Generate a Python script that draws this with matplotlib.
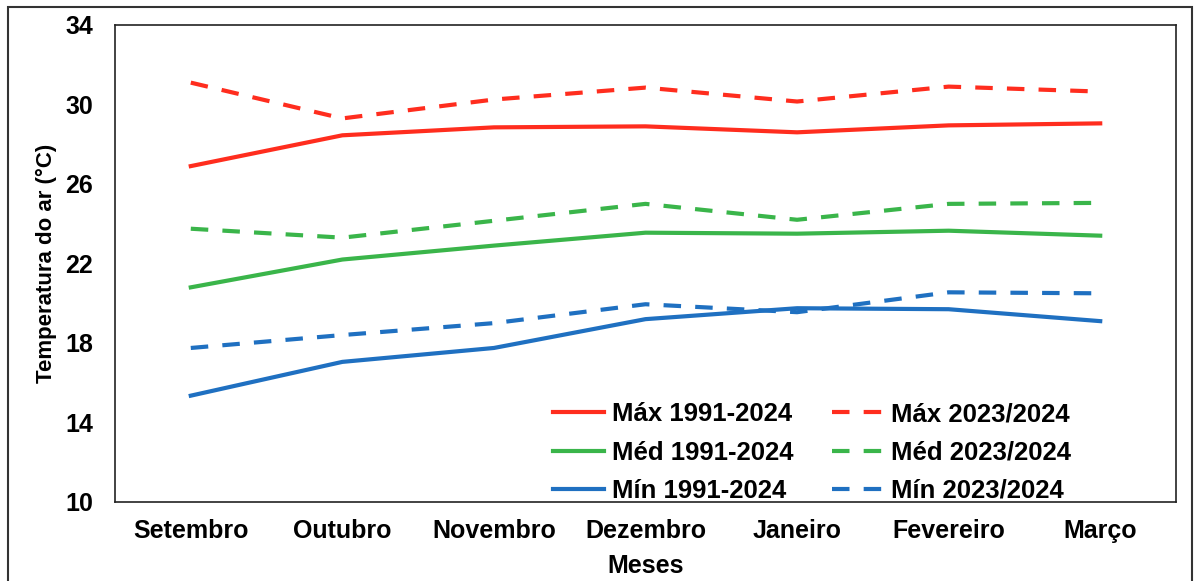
import matplotlib
matplotlib.use('Agg')
import matplotlib.pyplot as plt
from matplotlib.patches import Rectangle

# Dados (temperatura do ar, °C)
meses = ['Setembro', 'Outubro', 'Novembro', 'Dezembro', 'Janeiro', 'Fevereiro', 'Março']
max_normal = [26.9, 28.45, 28.85, 28.9, 28.6, 28.95, 29.05]
max_2324   = [31.1, 29.3, 30.25, 30.85, 30.15, 30.9, 30.65]
med_normal = [20.8, 22.2, 22.9, 23.55, 23.5, 23.65, 23.4]
med_2324   = [23.75, 23.3, 24.15, 25.0, 24.2, 25.0, 25.05]
min_normal = [15.35, 17.05, 17.75, 19.2, 19.75, 19.7, 19.1]
min_2324   = [17.75, 18.4, 19.0, 19.95, 19.55, 20.55, 20.5]
yticks = [10, 14, 18, 22, 26, 30, 34]

plt.rcParams['font.family'] = ['Liberation Sans', 'DejaVu Sans']
plt.rcParams['font.weight'] = 'bold'

fig = plt.figure(figsize=(11.95, 5.81), dpi=100)
ax = fig.add_axes([115/1195, 1-502/581, (1176-115)/1195, (502-25)/581])

vermelho = '#FF2D1E'
verde = '#3AB54A'
azul = '#1F70C1'
tr = (0, (4.2, 3.4))

x = range(len(meses))
ax.plot(x, max_normal, color=vermelho, lw=3, label='Máx 1991-2024')
ax.plot(x, med_normal, color=verde, lw=3, label='Méd 1991-2024')
ax.plot(x, min_normal, color=azul, lw=3, label='Mín 1991-2024')
ax.plot(x, max_2324, color=vermelho, lw=3, ls=tr, label='Máx 2023/2024')
ax.plot(x, med_2324, color=verde, lw=3, ls=tr, label='Méd 2023/2024')
ax.plot(x, min_2324, color=azul, lw=3, ls=tr, label='Mín 2023/2024')

ax.set_xlim(-0.5, len(meses) - 0.5)
ax.set_ylim(10, 34)
ax.set_yticks(yticks)
ax.set_xticks(list(x))
ax.set_xticklabels(meses)
ax.tick_params(length=0, labelsize=18)
ax.tick_params(axis='x', pad=12)
ax.tick_params(axis='y', pad=16)
for s in ax.spines.values():
    s.set_linewidth(1.2)
    s.set_color('#222222')

ax.set_xlabel('Meses', fontsize=18, fontweight='bold', labelpad=8)
ax.set_ylabel('Temperatura do ar (°C)', fontsize=16, fontweight='bold', labelpad=6)

ax.legend(ncol=2, loc='lower right', bbox_to_anchor=(0.923, -0.05), frameon=False,
          fontsize=18.5, handlelength=2.0, handletextpad=0.3, columnspacing=1.5,
          labelspacing=0.55)

# moldura externa
fig.patches.append(Rectangle((8/1195, -0.01), (1192-8)/1195, 1-7/581+0.01,
                             transform=fig.transFigure, fill=False,
                             ec='#333333', lw=1.5))

fig.savefig('out.png', dpi=100)
